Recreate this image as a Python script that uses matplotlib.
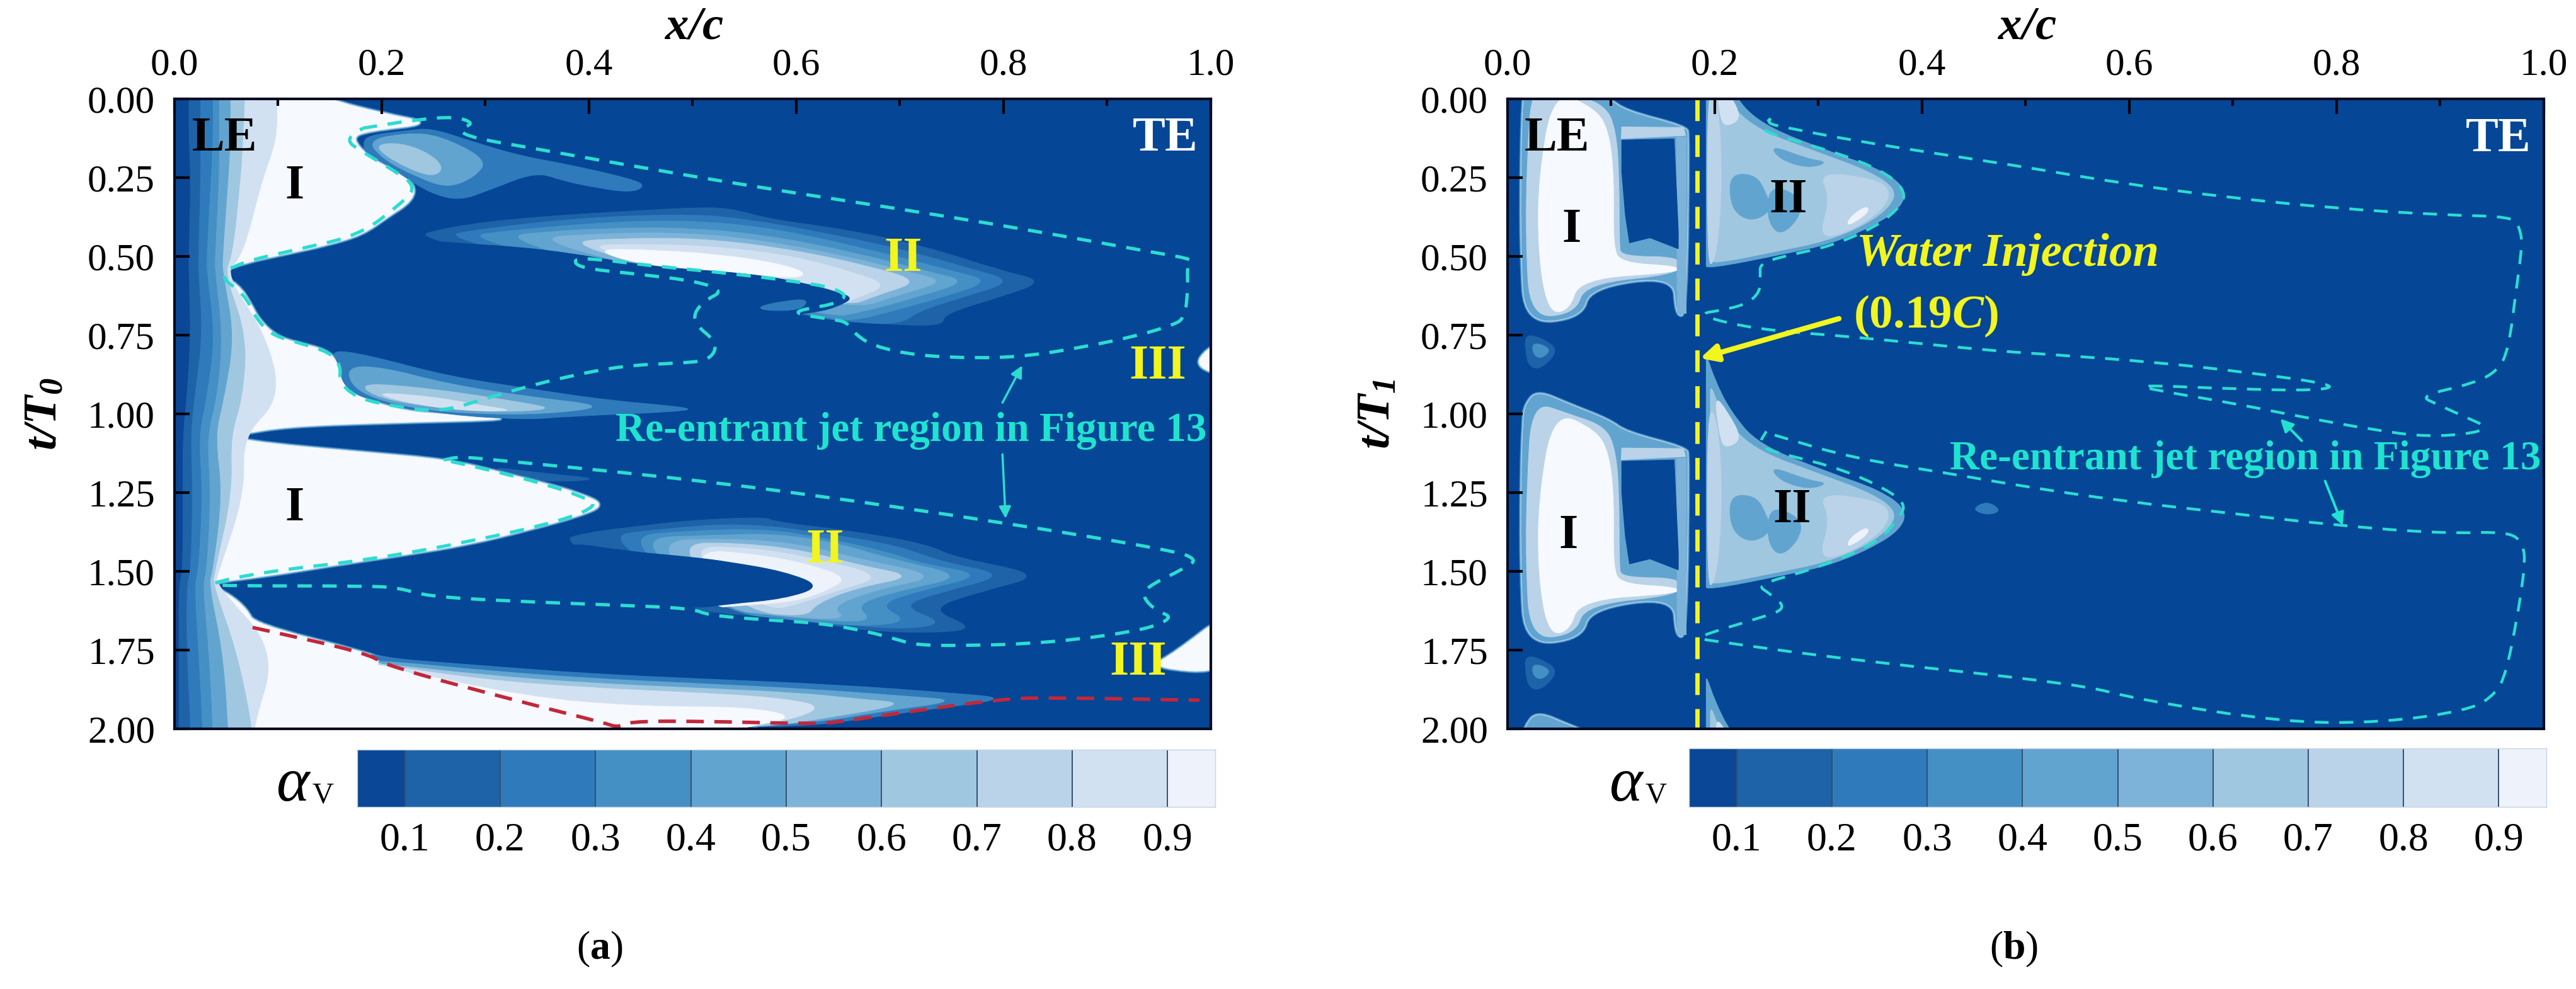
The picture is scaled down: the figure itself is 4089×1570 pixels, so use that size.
import numpy as np
import matplotlib
matplotlib.use('Agg')
import matplotlib.pyplot as plt
from matplotlib.patches import PathPatch
from matplotlib.path import Path
from matplotlib.ticker import MultipleLocator, FormatStrFormatter

plt.rcParams['font.family'] = ['Liberation Serif', 'DejaVu Serif']
plt.rcParams['mathtext.fontset'] = 'custom'
plt.rcParams['mathtext.rm'] = 'Liberation Serif'
plt.rcParams['mathtext.it'] = 'Liberation Serif:italic'
plt.rcParams['mathtext.bf'] = 'Liberation Serif:bold'
plt.rcParams['mathtext.bfit'] = 'Liberation Serif:italic:bold'

# colour bar
cb_edges = [0.05, 0.1, 0.2, 0.3, 0.4, 0.5, 0.6, 0.7, 0.8, 0.9, 0.95]
cb_ticks = [0.1, 0.2, 0.3, 0.4, 0.5, 0.6, 0.7, 0.8, 0.9]
cb = ['#0A4797', '#1E62A8', '#2F7ABB', '#4490C5', '#62A4D0',
      '#7DB3D8', '#A0C7E0', '#BAD3E8', '#D2E1F1', '#EEF2FB']
bg = '#054696'
core = '#F6F9FE'

# leading edge bands of panel a, x/c of each contour against t/T
le_t = [0, .13, .25, .5, .55, .75, .95, 1.07, 1.25, 1.5, 1.54, 1.75, 2.0]
le_1 = [.0136, .0136, .0155, .0136, .0136, .0155, .0116, .0078, .0078, .0078, .004, .004, .004]
le_2 = [.025, .025, .025, .023, .023, .027, .019, .0155, .0174, .0155, .0116, .0116, .0155]
le_3 = [.037, .037, .035, .031, .031, .039, .031, .023, .027, .023, .019, .023, .027]
le_4 = [.043, .043, .043, .039, .039, .0465, .041, .031, .035, .031, .027, .033, .037]
le_5 = [.054, .054, .052, .0465, .0465, .058, .048, .039, .0465, .037, .033, .0465, .052]
le_6 = [.068, .066, .064, .056, .048, .07, .066, .054, .056, .039, .037, .06, .0756]
le_7 = [.099, .099, .085, .066, .048, .089, .103, .066, .068, .043, .039, .099, .0756]

# panel a, sheet cavity outline
vapour_a = [(-.05, -.05), (.125, -.05), (.147, 0), (.2016, .046), (.25, .077), (.186, .10), (.171, .1225),
            (.186, .18), (.209, .222), (.232, .268), (.23, .322), (.205, .375), (.182, .429),
            (.147, .463), (.1086, .49), (.07, .517), (.04, .551), (.062, .59), (.074, .651),
            (.081, .697), (.097, .75), (.116, .773), (.147, .796), (.159, .842), (.163, .911),
            (.186, .957), (.225, .992), (.256, 1.0), (.341, 1.016), (.2, 1.027), (.1086, 1.039),
            (.066, 1.062), (.05, 1.07), (.085, 1.093), (.186, 1.123), (.264, 1.146),
            (.314, 1.185), (.36, 1.223), (.392, 1.254), (.415, 1.288), (.392, 1.322),
            (.341, 1.368), (.283, 1.414), (.225, 1.445), (.147, 1.483), (.089, 1.514),
            (.03, 1.537), (.054, 1.575), (.07, 1.621), (.077, 1.667), (.186, 1.759),
            (.2016, 1.782), (.5, 1.9), (.6, 2.05), (.3, 2.05), (.1, 2.05), (-.05, 2.05),
            (-.05, 1.9), (-.05, 1.0), (-.05, .1)]

# panel a, small patches
streak_a = [(.30, 1.165), (.36, 1.19), (.41, 1.205), (.38, 1.215), (.34, 1.21)]
patch_a = [(.563, .6585), (.59, .64), (.612, .635), (.605, .67), (.57, .672)]

# panel a, shedding lobe near t/T = 0.2
top_1 = [(.182, .145), (.186, .115), (.225, .0995), (.248, .092), (.283, .13), (.3335, .18),
         (.38, .207), (.45, .26), (.452, .283), (.438, .295), (.411, .283), (.376, .26),
         (.349, .23), (.302, .291), (.275, .322), (.248, .299), (.225, .253), (.2055, .207),
         (.186, .176)]
top_2 = [(.186, .13), (.225, .107), (.256, .115), (.302, .191), (.291, .245), (.264, .283),
         (.233, .245), (.2016, .191)]
top_3 = [(.194, .145), (.217, .138), (.244, .168), (.26, .214), (.252, .245), (.233, .23),
         (.2055, .184)]

# panel a, lobe near t/T = 0.9
mid_1 = [(.151, .796), (.186, .812), (.264, .88), (.341, .919), (.419, .957), (.5, .98),
         (.49, .992), (.38, 1.007), (.341, 1.018), (.264, 1.003), (.186, .957), (.163, .911),
         (.159, .842)]
mid_2 = [(.165, .85), (.20, .85), (.264, .905), (.341, .945), (.42, .975), (.36, 1.0),
         (.29, 1.0), (.225, .98), (.175, .93)]
mid_3 = [(.18, .90), (.25, .92), (.33, .96), (.37, .985), (.30, .995), (.23, .97), (.19, .94)]
mid_4 = [(.19, .93), (.25, .945), (.30, .975), (.33, .99), (.28, .99), (.225, .965)]

# panel a, crescent II, first cycle
up_1 = [(.225, .444), (.2637, .406), (.341, .375), (.4575, .352), (.5, .345), (.535, .345),
        (.577, .383), (.647, .413), (.724, .467), (.797, .544), (.84, .578), (.797, .628),
        (.743, .681), (.741, .72), (.692, .716), (.63, .70), (.605, .681)]
up_2 = [(.25, .44), (.30, .41), (.40, .375), (.50, .365), (.55, .38), (.62, .42), (.70, .475),
        (.77, .54), (.81, .578), (.76, .63), (.72, .67), (.70, .715), (.66, .71), (.62, .695)]
up_3 = [(.27, .44), (.33, .415), (.42, .39), (.50, .385), (.58, .41), (.68, .485), (.75, .545),
        (.788, .578), (.74, .63), (.69, .675), (.655, .705), (.62, .69)]
up_4 = [(.30, .44), (.38, .415), (.48, .405), (.57, .43), (.66, .49), (.73, .55), (.765, .578),
        (.72, .625), (.665, .675), (.63, .695)]
up_5 = [(.33, .445), (.42, .425), (.50, .425), (.57, .45), (.65, .50), (.71, .55), (.744, .578),
        (.70, .62), (.65, .675)]
up_6 = [(.36, .455), (.45, .44), (.52, .445), (.60, .48), (.67, .53), (.72, .578), (.68, .62),
        (.645, .665)]
up_7 = [(.38, .465), (.46, .46), (.53, .47), (.60, .50), (.65, .545), (.69, .59), (.655, .635),
        (.64, .66)]
up_8 = [(.40, .475), (.47, .48), (.53, .495), (.58, .52), (.61, .55), (.60, .57), (.553, .553),
        (.4575, .532)]
up_hole = [(.225, .444), (.2637, .4556), (.3567, .475), (.4575, .532), (.553, .553), (.605, .582),
           (.64, .6125), (.655, .632), (.64, .658), (.623, .674), (.605, .681), (.59, .69),
           (.45, .62), (.30, .52)]

# panel a, crescent II, second cycle
lo_1 = [(.37, 1.403), (.399, 1.376), (.457, 1.353), (.5005, 1.337), (.57, 1.327), (.58, 1.343),
        (.657, 1.373), (.727, 1.414), (.752, 1.455), (.84, 1.511), (.78, 1.562), (.727, 1.618),
        (.772, 1.679), (.741, 1.695), (.668, 1.69), (.605, 1.654), (.511, 1.628), (.504, 1.617)]
lo_2 = [(.41, 1.39), (.47, 1.365), (.55, 1.345), (.64, 1.385), (.70, 1.42), (.74, 1.47),
        (.805, 1.511), (.74, 1.565), (.70, 1.61), (.745, 1.665), (.70, 1.685), (.64, 1.665),
        (.55, 1.64)]
lo_3 = [(.43, 1.39), (.50, 1.37), (.57, 1.365), (.63, 1.395), (.69, 1.44), (.72, 1.475),
        (.783, 1.511), (.72, 1.56), (.678, 1.605), (.71, 1.66), (.66, 1.675), (.60, 1.655),
        (.53, 1.63)]
lo_4 = [(.44, 1.395), (.52, 1.385), (.58, 1.38), (.64, 1.41), (.69, 1.46), (.765, 1.515),
        (.70, 1.56), (.656, 1.605), (.675, 1.66), (.62, 1.655), (.54, 1.625)]
lo_5 = [(.46, 1.405), (.53, 1.395), (.60, 1.41), (.66, 1.46), (.74, 1.515), (.68, 1.555),
        (.633, 1.61), (.65, 1.655), (.58, 1.64), (.53, 1.62)]
lo_6 = [(.48, 1.41), (.55, 1.41), (.61, 1.435), (.66, 1.48), (.715, 1.515), (.66, 1.55),
        (.62, 1.6), (.61, 1.645), (.55, 1.625)]
lo_7 = [(.49, 1.42), (.56, 1.425), (.62, 1.46), (.685, 1.515), (.64, 1.56), (.61, 1.595),
        (.57, 1.63)]
lo_8 = [(.50, 1.43), (.56, 1.445), (.61, 1.475), (.65, 1.52), (.63, 1.56), (.60, 1.595),
        (.54, 1.61), (.52, 1.615)]
lo_hole = [(.37, 1.403), (.438, 1.437), (.5005, 1.455), (.535, 1.47), (.588, 1.5), (.625, 1.547),
           (.588, 1.587), (.535, 1.603), (.504, 1.617), (.47, 1.60), (.40, 1.50)]

# panel a, closing wedge at the bottom
end_1 = [(.186, 1.759), (.2016, 1.775), (.30, 1.80), (.40, 1.825), (.50, 1.84), (.64, 1.86),
         (.745, 1.885), (.81, 1.904), (.71, 1.945), (.64, 1.98), (.605, 1.99), (.5, 2.0),
         (.428, 1.99), (.341, 1.92), (.2055, 1.80)]
end_2 = [(.19, 1.78), (.30, 1.815), (.40, 1.84), (.50, 1.855), (.62, 1.875), (.70, 1.895),
         (.76, 1.91), (.68, 1.945), (.62, 1.98), (.5, 2.0), (.428, 1.99), (.341, 1.92), (.2055, 1.80)]
end_3 = [(.19, 1.79), (.30, 1.83), (.40, 1.855), (.50, 1.87), (.60, 1.885), (.66, 1.905),
         (.71, 1.92), (.62, 1.97), (.58, 1.99), (.5, 2.0), (.428, 1.99), (.341, 1.92), (.2055, 1.80)]
end_4 = [(.195, 1.795), (.30, 1.845), (.40, 1.87), (.50, 1.885), (.58, 1.90), (.63, 1.93),
         (.58, 1.985), (.5, 2.0), (.428, 1.99), (.341, 1.92), (.2055, 1.80)]
end_5 = [(.2, 1.80), (.34, 1.90), (.45, 1.93), (.55, 1.93), (.60, 1.96), (.56, 1.99), (.5, 2.03),
         (.3, 2.03), (.2, 1.9)]

# panel a, region III at the trailing edge
te_1 = [(1.02, .76), (.995, .795), (.985, .85), (1.02, .885)]
te_2 = [(1.02, 1.62), (.965, 1.76), (.94, 1.805), (1.02, 1.825)]

# panel a, dashed contours
jet_a1 = [(.182, .092), (.233, .065), (.271, .055), (.29, .0766), (.273, .096), (.287, .1225),
          (.3415, .153), (.419, .199), (.5615, .279), (.699, .348), (.821, .413), (.9505, .49),
          (.984, .509), (.977, .528), (.978, .597), (.975, .697), (.961, .72), (.926, .754),
          (.874, .789), (.825, .815), (.779, .823), (.717, .815), (.675, .785), (.657, .747),
          (.649, .708), (.636, .70), (.605, .685), (.60, .674), (.616, .662), (.636, .651),
          (.65, .624), (.633, .597), (.605, .582), (.553, .559), (.4575, .528), (.411, .509),
          (.385, .505), (.39, .536), (.446, .555), (.504, .578), (.53, .609), (.512, .639),
          (.501, .681), (.504, .72), (.5215, .766), (.522, .804), (.512, .831), (.4886, .838),
          (.434, .846), (.38, .88), (.3335, .919), (.3025, .949), (.256, .995), (.2055, .972),
          (.1745, .946), (.159, .896), (.161, .85), (.151, .804), (.116, .77), (.093, .747),
          (.0775, .689), (.068, .62), (.042, .559), (.066, .517), (.116, .479), (.178, .433),
          (.217, .337), (.235, .276), (.2055, .214), (.182, .168), (.165, .13), (.182, .092)]
jet_a2 = [(.26, 1.146), (.275, 1.135), (.31, 1.146), (.419, 1.181), (.5005, 1.21), (.598, 1.249),
          (.797, 1.343), (.964, 1.434), (.986, 1.46), (.978, 1.485), (.933, 1.557), (.938, 1.598),
          (.95, 1.628), (.962, 1.644), (.95, 1.669), (.926, 1.69), (.874, 1.715), (.821, 1.73),
          (.772, 1.735), (.717, 1.735), (.696, 1.715), (.668, 1.69), (.623, 1.664), (.57, 1.654),
          (.5145, 1.639), (.4996, 1.617), (.4186, 1.606), (.322, 1.594), (.244, 1.579),
          (.217, 1.552), (.186, 1.546), (.054, 1.546), (.03, 1.541), (.085, 1.502), (.186, 1.464),
          (.283, 1.407), (.376, 1.338), (.41, 1.288), (.392, 1.261), (.365, 1.23), (.322, 1.192),
          (.283, 1.162), (.26, 1.146)]
shed_a = [(.0756, 1.678), (.186, 1.759), (.2055, 1.801), (.341, 1.92), (.415, 1.981), (.428, 1.996),
          (.438, 1.977), (.5005, 1.975), (.6226, 1.985), (.647, 1.975), (.797, 1.904), (.849, 1.901),
          (.989, 1.909)]

# panel b, sheet cavity I, t/T measured from the start of each cycle
sheet_outer = [(.0155, 0), (.0175, -.05), (.029, -.094), (.06, -.05), (.099, 0), (.114, .038),
               (.1725, .088), (.1745, .115), (.1725, .685), (.163, .685), (.161, .559),
               (.0795, .597), (.0717, .693), (.0175, .712), (.0136, .498), (.0136, .191)]
sheet_mid = [(.024, -.06), (.06, -.02), (.095, .02), (.105, .1), (.108, .25), (.108, .46), (.11, .5),
             (.168, .5), (.168, .555), (.075, .585), (.066, .68), (.022, .695), (.018, .45), (.019, .2)]
sheet_core = [(.045, -.03), (.085, .03), (.098, .1), (.103, .25), (.102, .47), (.11, .52), (.165, .53),
              (.165, .55), (.07, .57), (.06, .67), (.04, .68), (.03, .5), (.03, .25)]
sheet_bar = [(.1105, .088), (.17, .09), (.172, .115), (.11, .125)]
sheet_strip = [(.163, .12), (.172, .12), (.172, .68), (.164, .68)]
sheet_hole = [(.1105, .13), (.161, .126), (.165, .42), (.165, .475), (.1377, .44), (.118, .456),
              (.114, .3675), (.1105, .23)]
spot_1 = [(.0175, .7465), (.033, .758), (.05, .796), (.033, .8575), (.021, .85), (.0175, .80)]
spot_2 = [(.024, .775), (.035, .78), (.042, .80), (.032, .825), (.025, .81)]

# panel b, cloud II behind the injection slot
cloud_outer = [(.192, -.21), (.2, -.13), (.215, -.03), (.242, .077), (.312, .168), (.3595, .222),
               (.385, .283), (.38, .345), (.351, .406), (.312, .459), (.2695, .49), (.192, .54),
               (.192, .52), (.192, .3), (.192, 0), (.192, -.18)]
cloud_base = [(.196, -.12), (.205, -.03), (.235, .09), (.305, .175), (.35, .23), (.375, .285),
              (.37, .34), (.345, .40), (.308, .45), (.265, .48), (.196, .525), (.196, .5),
              (.196, .2), (.196, -.05)]
cloud_light = [(.30, .23), (.355, .253), (.37, .29), (.3625, .352), (.33, .421), (.30, .444), (.312, .314)]
cloud_spot = [(.347, .337), (.349, .36), (.3277, .406), (.33, .375)]
cloud_dark_1 = [(.215, .237), (.24, .24), (.25, .3), (.255, .35), (.24, .385), (.225, .375), (.215, .33)]
cloud_dark_2 = [(.254, .268), (.285, .314), (.281, .383), (.262, .436), (.25, .375)]
cloud_dark_3 = [(.254, .145), (.29, .19), (.31, .2), (.29, .22), (.262, .19)]
cloud_edge = [(.193, -.05), (.203, 0), (.207, .2), (.205, .4), (.2, .515), (.193, .53)]
cloud_tip = [(.2, -.08), (.212, -.03), (.227, .06), (.21, .09), (.205, .05)]
spot_3 = [(.448, 1.302), (.463, 1.276), (.477, 1.307), (.463, 1.322)]

cycle_offsets = [0, 1.02, 2.04]

# panel b, dashed contours
jet_b1 = [(.254, .061), (.2515, .0766), (.2656, .088), (.3315, .13), (.4285, .18), (.4907, .2107),
          (.594, .268), (.6975, .313), (.8, .347), (.904, .368), (.97, .373), (.9766, .409),
          (.9793, .46), (.973, .613), (.966, .792), (.956, .862), (.932, .903), (.88, .9425),
          (.8975, .97), (.928, 1.015), (.945, 1.04), (.935, 1.06), (.887, 1.073), (.8353, 1.05),
          (.766, 1.009), (.6975, .964), (.628, .926), (.605, .907), (.6975, .92), (.7836, .926),
          (.80, .907), (.7147, .868), (.628, .836), (.525, .811), (.4907, .804), (.448, .7925),
          (.3315, .754), (.254, .735), (.2075, .708), (.185, .681), (.2075, .67), (.2307, .651),
          (.244, .6125), (.244, .559), (.244, .52), (.273, .494), (.312, .467), (.355, .406),
          (.376, .352), (.385, .306), (.374, .253), (.343, .199), (.293, .1455), (.242, .0995),
          (.254, .061)]
jet_b2 = [(.258, 1.067), (.3315, 1.139), (.4285, 1.19), (.4907, 1.226), (.594, 1.277), (.6975, 1.315),
          (.8, 1.354), (.904, 1.38), (.966, 1.373), (.98, 1.411), (.982, 1.48), (.973, 1.673),
          (.963, 1.826), (.954, 1.887), (.93, 1.94), (.845, 1.98), (.75, 1.98), (.607, 1.906),
          (.552, 1.858), (.3315, 1.781), (.196, 1.72), (.18, 1.71), (.2424, 1.649), (.27, 1.618),
          (.254, 1.572), (.24, 1.542), (.293, 1.496), (.355, 1.414), (.378, 1.332), (.385, 1.282),
          (.355, 1.22), (.312, 1.164), (.254, 1.118), (.242, 1.098), (.25, 1.055)]

inject_x = 0.183

cyan = '#2CDCD0'
jet_text = '#1FE3CF'
yellow = '#F2F51E'
red = '#C2273A'

W, H = 4089., 1570.


def rect(x0, x1, y0, y1):
    return [x0/W, 1-y1/H, (x1-x0)/W, (y1-y0)/H]


def smooth_closed(pts, off=0.0):
    # vertices act as quadratic bezier control points, contours in the
    # reference are rounded so plain polygons look too faceted
    p = np.array(pts, dtype=float)
    p[:, 1] += off
    mids = (p+np.roll(p, -1, axis=0))/2
    verts = [mids[-1]]
    codes = [Path.MOVETO]
    for i in range(len(p)):
        verts += [p[i], mids[i]]
        codes += [Path.CURVE3, Path.CURVE3]
    return Path(verts, codes)


def smooth_open(pts):
    p = np.array(pts, dtype=float)
    mids = (p[:-1]+p[1:])/2
    verts = [p[0], mids[0]]
    codes = [Path.MOVETO, Path.LINETO]
    for i in range(1, len(p)-1):
        verts += [p[i], mids[i]]
        codes += [Path.CURVE3, Path.CURVE3]
    verts.append(p[-1])
    codes.append(Path.LINETO)
    return Path(verts, codes)


def paint(ax, pts, color, off=0.0):
    ax.add_patch(PathPatch(smooth_closed(pts, off), fc=color, ec=color, lw=0.8))


def plain(ax, pts, color, off=0.0):
    xy = np.array(pts)
    ax.fill(xy[:, 0], xy[:, 1]+off, fc=color, ec=color, lw=0.8)


def soft(ax, pts, color, off=0.0):
    # fake the blurred edge with a few wide strokes under the fill
    for lw, c in [(5.5, cb[2]), (4, cb[4]), (2.5, cb[6]), (1.2, cb[8])]:
        ax.add_patch(PathPatch(smooth_closed(pts, off), fc=c, ec=c, lw=lw, joinstyle='round'))
    ax.add_patch(PathPatch(smooth_closed(pts, off), fc=color, ec=color, lw=0.5))


def dashed(ax, pts, color, lw, on, off_):
    ax.add_patch(PathPatch(smooth_open(pts), fill=False, ec=color, lw=lw,
                           linestyle=(0, (on, off_)), capstyle='butt', zorder=2))


def arrow(ax, start, end, color, lw, scale):
    ax.annotate('', xy=end, xytext=start,
                arrowprops=dict(arrowstyle='-|>', color=color, lw=lw,
                                mutation_scale=scale, shrinkA=0, shrinkB=0))


def label(ax, x, t, s, color='black', size=56, **kw):
    ax.text(x, t, s, color=color, fontsize=size, fontweight='bold',
            ha='center', va='center', **kw)


def style_axes(ax):
    ax.set_facecolor(bg)
    ax.set_xlim(0, 1)
    ax.set_ylim(2, 0)
    ax.xaxis.set_major_locator(MultipleLocator(0.2))
    ax.xaxis.set_minor_locator(MultipleLocator(0.1))
    ax.yaxis.set_major_locator(MultipleLocator(0.25))
    ax.xaxis.set_major_formatter(FormatStrFormatter('%.1f'))
    ax.yaxis.set_major_formatter(FormatStrFormatter('%.2f'))
    ax.tick_params(which='major', top=True, bottom=False, left=True, right=False,
                   labeltop=True, labelbottom=False, direction='in', length=17,
                   width=3, labelsize=44)
    ax.tick_params(axis='x', which='major', pad=19)
    ax.tick_params(axis='y', which='major', pad=22)
    ax.tick_params(which='minor', top=True, bottom=False, direction='in', length=8, width=3)
    for s in ax.spines.values():
        s.set_linewidth(3)
        s.set_color('#050a20')


def colorbar(x0, x1, y0, y1, sym_x):
    cax = fig.add_axes(rect(x0, x1, y0, y1))
    for i in range(len(cb)):
        cax.axvspan(cb_edges[i], cb_edges[i+1], color=cb[i], lw=0)
    for v in cb_ticks:
        cax.axvline(v, color='#33506e', lw=1.4)
    cax.set_xlim(cb_edges[0], cb_edges[-1])
    cax.set_yticks([])
    cax.set_xticks(cb_ticks)
    cax.set_xticklabels(['%.1f' % v for v in cb_ticks])
    cax.tick_params(length=0, labelsize=46, pad=18)
    for s in cax.spines.values():
        s.set_linewidth(1)
        s.set_color('#c4d4e2')
    fig.text(sym_x/W, 1-1247/H, 'α', fontsize=72, fontstyle='italic', ha='center', va='center')
    fig.text((sym_x+48)/W, 1-1263/H, 'V', fontsize=34, ha='center', va='center')


fig = plt.figure(figsize=(W/100, H/100), dpi=100)

# panel a
ax = fig.add_axes(rect(276.5, 1922, 157.5, 1157))
style_axes(ax)
paint(ax, streak_a, cb[1])
soft(ax, vapour_a, core)
for band, c in zip([le_7, le_6, le_5, le_4, le_3, le_2, le_1],
                   [cb[8], cb[6], cb[4], cb[3], cb[2], cb[1], cb[0]]):
    edge = [(-.05, -.1), (band[0], -.1)] + list(zip(band, le_t)) + [(band[-1], 2.1), (-.05, 2.1)]
    paint(ax, edge, c)
paint(ax, top_1, cb[2])
paint(ax, top_2, cb[4])
paint(ax, top_3, cb[6])
for shape, c in zip([mid_1, mid_2, mid_3, mid_4], [cb[2], cb[4], cb[6], cb[8]]):
    paint(ax, shape, c)
for shape, c in zip([up_1, up_2, up_3, up_4, up_5, up_6, up_7, up_8],
                    [cb[1], cb[2], cb[3], cb[4], cb[5], cb[7], cb[8], core]):
    paint(ax, shape, c)
paint(ax, up_hole, bg)
paint(ax, patch_a, cb[2])
for shape, c in zip([lo_1, lo_2, lo_3, lo_4, lo_5, lo_6, lo_7, lo_8],
                    [cb[1], cb[2], cb[3], cb[4], cb[5], cb[7], cb[8], cb[9]]):
    paint(ax, shape, c)
paint(ax, lo_hole, bg)
for shape, c in zip([end_1, end_2, end_3, end_4, end_5],
                    [cb[2], cb[4], cb[6], cb[8], core]):
    paint(ax, shape, c)
soft(ax, te_1, core)
soft(ax, te_2, core)
dashed(ax, jet_a1, cyan, 3.8, 4.3, 3.2)
dashed(ax, jet_a2, cyan, 3.8, 4.3, 3.2)
dashed(ax, shed_a, red, 4, 5, 3)
arrow(ax, (.799, .964), (.818, .846), cyan, 2.5, 28)
arrow(ax, (.799, 1.128), (.802, 1.332), cyan, 2.5, 28)
label(ax, .0485, .126, 'LE')
label(ax, .956, .126, 'TE', color='white')
label(ax, .116, .279, 'I')
label(ax, .116, 1.30, 'I')
label(ax, .703, .509, 'II', color=yellow)
label(ax, .628, 1.434, 'II', color=yellow)
label(ax, .949, .85, 'III', color=yellow)
label(ax, .93, 1.79, 'III', color=yellow)
label(ax, .711, 1.053, 'Re-entrant jet region in Figure 13', color=jet_text, size=47)
fig.text(1102/W, 1-44/H, r'$\mathbfit{x/c}$', fontsize=54, ha='center', va='center')
fig.text(72/W, 1-657/H, r'$\mathbfit{t/T}_{\mathbfit{0}}$', fontsize=54,
         rotation=90, ha='center', va='center')
colorbar(567, 1929, 1190, 1281, 464)
fig.text(952/W, 1-1507/H, r'($\mathbf{a}$)', fontsize=46, ha='center', va='center')

# panel b
ax = fig.add_axes(rect(2392.5, 4038, 157.5, 1157))
style_axes(ax)
for off in cycle_offsets:
    soft(ax, sheet_outer, cb[4], off)
    paint(ax, sheet_mid, cb[7], off)
    paint(ax, sheet_core, core, off)
    plain(ax, sheet_bar, cb[7], off)
    plain(ax, sheet_strip, cb[5], off)
    plain(ax, sheet_hole, bg, off)
    paint(ax, spot_1, cb[1], off)
    paint(ax, spot_2, cb[3], off)
    paint(ax, cloud_outer, cb[4], off)
    paint(ax, cloud_base, cb[6], off)
    paint(ax, cloud_edge, cb[7], off)
    paint(ax, cloud_tip, cb[8], off)
    paint(ax, cloud_dark_1, cb[4], off)
    paint(ax, cloud_dark_2, cb[4], off)
    paint(ax, cloud_dark_3, cb[4], off)
    paint(ax, cloud_light, cb[7], off)
    paint(ax, cloud_spot, cb[9], off)
paint(ax, spot_3, cb[2])
dashed(ax, jet_b1, cyan, 3.2, 5, 3.8)
dashed(ax, jet_b2, cyan, 3.2, 5, 3.8)
ax.plot([inject_x, inject_x], [0, 2], color=yellow, lw=5, dashes=(5, 3.2), dash_capstyle='butt')
arrow(ax, (.32, .697), (.186, .823), yellow, 6, 40)
arrow(ax, (.7664, 1.085), (.7457, 1.015), jet_text, 3, 30)
arrow(ax, (.789, 1.213), (.806, 1.354), jet_text, 3, 30)
label(ax, .048, .126, 'LE')
label(ax, .956, .128, 'TE', color='white')
label(ax, .062, .417, 'I')
label(ax, .059, 1.388, 'I')
label(ax, .271, .322, 'II')
label(ax, .275, 1.307, 'II')
ax.text(.483, .494, 'Water Injection', color=yellow, fontsize=54, fontweight='bold',
        fontstyle='italic', ha='center', va='center')
ax.text(.404, .689, r'(0.19$\mathbfit{C}$)', color=yellow, fontsize=54, fontweight='bold',
        ha='center', va='center')
label(ax, .712, 1.143, 'Re-entrant jet region in Figure 13', color=jet_text, size=47)
fig.text(3218/W, 1-44/H, r'$\mathbfit{x/c}$', fontsize=54, ha='center', va='center')
fig.text(2188/W, 1-657/H, r'$\mathbfit{t/T}_{\mathbfit{1}}$', fontsize=54,
         rotation=90, ha='center', va='center')
colorbar(2681, 4042, 1188, 1281, 2580)
fig.text(3197/W, 1-1507/H, r'($\mathbf{b}$)', fontsize=46, ha='center', va='center')

fig.savefig('out.png', dpi=100)
